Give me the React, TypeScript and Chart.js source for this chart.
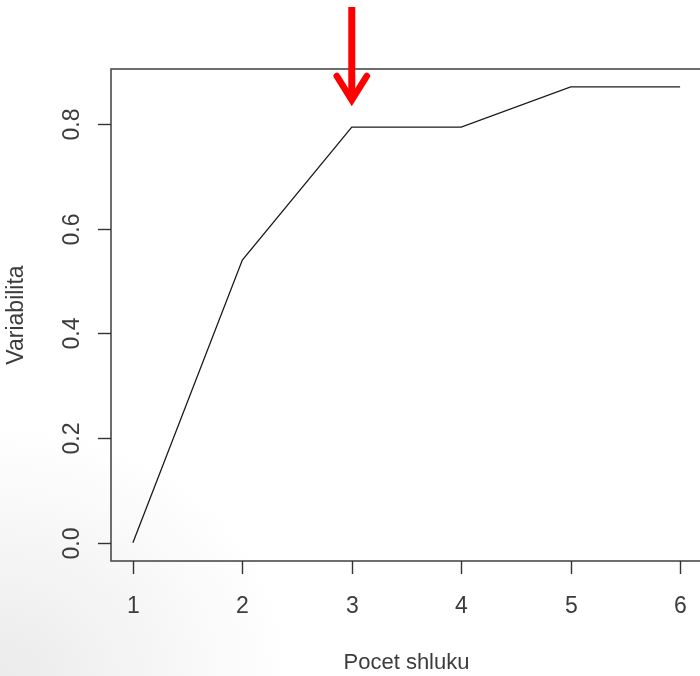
import React, { useEffect, useRef } from "react";
import { Chart, registerables } from "chart.js";

Chart.register(...registerables);

// Number of clusters vs. explained variability
const clusterCounts: number[] = [1, 2, 3, 4, 5, 6];
const variability: number[] = [0.0, 0.54, 0.794, 0.794, 0.871, 0.871];

const xTicks: number[] = [1, 2, 3, 4, 5, 6];
const yTicks: number[] = [0.0, 0.2, 0.4, 0.6, 0.8];
const yTickLabels: string[] = ["0.0", "0.2", "0.4", "0.6", "0.8"];

const xTitle = "Pocet shluku";
const yTitle = "Variabilita";

// chosen number of clusters (elbow), marked with the red arrow
const chosenClusters = 3;

const CANVAS_W = 712;
const CANVAS_H = 676;
const FAMILY = '"Liberation Sans", Arial, sans-serif';
const TICK_FONT = `23px ${FAMILY}`;
const XTITLE_FONT = `22px ${FAMILY}`;
const YTITLE_FONT = `23px ${FAMILY}`;

const framePlugin = {
  id: "rFrame",
  afterDraw(chart: any) {
    const { ctx, chartArea, scales } = chart;
    const xs = scales.x;
    const ys = scales.y;
    const { left, right, top, bottom } = chartArea;

    ctx.save();
    // box
    ctx.strokeStyle = "#4a4a4a";
    ctx.lineWidth = 1.6;
    ctx.strokeRect(left, top, right - left, bottom - top);

    // x axis ticks + labels
    ctx.strokeStyle = "#333";
    ctx.lineWidth = 1.4;
    ctx.fillStyle = "#3c3c3c";
    ctx.font = TICK_FONT;
    ctx.textAlign = "center";
    ctx.textBaseline = "middle";
    xTicks.forEach((v) => {
      const px = Math.round(xs.getPixelForValue(v)) + 0.5;
      ctx.beginPath();
      ctx.moveTo(px, bottom);
      ctx.lineTo(px, bottom + 13);
      ctx.stroke();
      ctx.fillText(String(v), px, bottom + 46);
    });

    // y axis ticks + rotated labels
    yTicks.forEach((v, i) => {
      const py = Math.round(ys.getPixelForValue(v)) + 0.5;
      ctx.beginPath();
      ctx.moveTo(left, py);
      ctx.lineTo(left - 13, py);
      ctx.stroke();
      ctx.save();
      ctx.translate(left - 38, py);
      ctx.rotate(-Math.PI / 2);
      ctx.fillText(yTickLabels[i], 0, 0);
      ctx.restore();
    });

    // axis titles
    ctx.font = XTITLE_FONT;
    ctx.fillText(xTitle, (left + right) / 2, bottom + 102);
    ctx.font = YTITLE_FONT;
    ctx.save();
    ctx.translate(left - 94, (top + bottom) / 2);
    ctx.rotate(-Math.PI / 2);
    ctx.fillText(yTitle, 0, 0);
    ctx.restore();

    // red arrow pointing at the chosen cluster count
    const ax = xs.getPixelForValue(chosenClusters);
    const tipY = top + 34;
    ctx.strokeStyle = "#ff0000";
    ctx.lineWidth = 7;
    ctx.lineCap = "butt";
    ctx.beginPath();
    ctx.moveTo(ax, 7);
    ctx.lineTo(ax, tipY - 6);
    ctx.stroke();
    ctx.lineCap = "round";
    ctx.lineJoin = "miter";
    ctx.lineWidth = 6.5;
    ctx.beginPath();
    ctx.moveTo(ax - 15, tipY - 27);
    ctx.lineTo(ax, tipY - 3);
    ctx.lineTo(ax + 15, tipY - 27);
    ctx.stroke();
    ctx.restore();
  },
};

export default function App() {
  const canvasRef = useRef<HTMLCanvasElement | null>(null);

  useEffect(() => {
    if (!canvasRef.current) return;
    const chart = new Chart(canvasRef.current, {
      type: "line",
      data: {
        datasets: [
          {
            data: clusterCounts.map((c, i) => ({ x: c, y: variability[i] })),
            borderColor: "#1a1a1a",
            borderWidth: 1.3,
            pointRadius: 0,
            tension: 0,
            fill: false,
          },
        ],
      },
      options: {
        animation: false,
        responsive: false,
        maintainAspectRatio: false,
        devicePixelRatio: 1,
        layout: { padding: { left: 111, top: 69, right: CANVAS_W - 702, bottom: CANVAS_H - 561 } },
        plugins: { legend: { display: false }, tooltip: { enabled: false } },
        scales: {
          x: { type: "linear", min: 0.8, max: 6.2, display: false },
          y: { type: "linear", min: -0.0348, max: 0.905, display: false },
        },
      },
      plugins: [framePlugin],
    });
    return () => chart.destroy();
  }, []);

  return (
    <div
      style={{
        position: "fixed",
        left: 0,
        top: 0,
        width: 700,
        height: 676,
        overflow: "hidden",
        background:
          "radial-gradient(ellipse 290px 250px at 0% 100%, #ebebeb 0%, #f5f5f5 50%, #ffffff 100%)",
      }}
    >
      <canvas ref={canvasRef} width={CANVAS_W} height={CANVAS_H} style={{ display: "block" }} />
    </div>
  );
}
